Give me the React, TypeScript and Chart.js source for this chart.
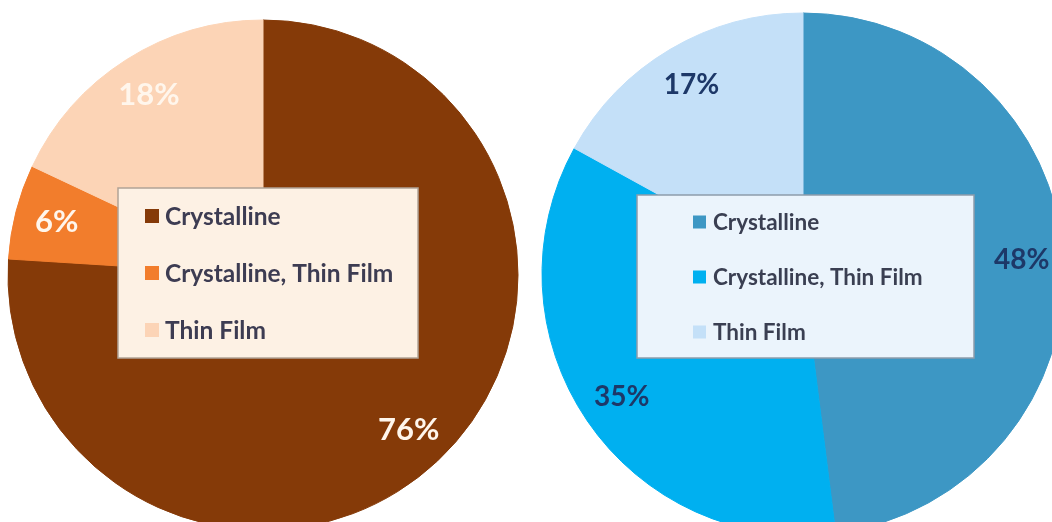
import React, { useEffect, useRef } from "react";
import { Chart, registerables } from "chart.js";

Chart.register(...registerables);

// ---- data ----
const categories = ["Crystalline", "Crystalline, Thin Film", "Thin Film"];
const leftValues = [76, 6, 18];
const rightValues = [48, 35, 17];
const leftColors = ["#853a08", "#f27d2c", "#fcd4b6"];
const rightColors = ["#3d97c4", "#00b0f0", "#c4e0f8"];

const FONT = "Lato, 'Open Sans', sans-serif";

type LegendCfg = {
  x: number; y: number; w: number; h: number;
  fill: string; stroke: string;
  swX: number; sw: number; textX: number; rows: number[];
  fontSize: number; textColor: string;
};

type PieCfg = {
  values: number[];
  colors: string[];
  left: number; top: number; size: number; radius: number;
  labelColor: string; labelSize: number; labelR: number;
  legend: LegendCfg;
};

const leftCfg: PieCfg = {
  values: leftValues,
  colors: leftColors,
  left: 6, top: 18, size: 514, radius: 255,
  labelColor: "#fff6ec", labelSize: 31, labelR: 0.835,
  legend: {
    x: -145, y: -87, w: 300, h: 170,
    fill: "#fdf1e4", stroke: "#b0a396",
    swX: -118, sw: 14, textX: -98, rows: [-59, -2, 55],
    fontSize: 24.5, textColor: "#3d3c52",
  },
};

const rightCfg: PieCfg = {
  values: rightValues,
  colors: rightColors,
  left: 540, top: 11, size: 526, radius: 261,
  labelColor: "#1d3868", labelSize: 28, labelR: 0.84,
  legend: {
    x: -166, y: -79, w: 337, h: 163,
    fill: "#ebf4fc", stroke: "#8d9cab",
    swX: -110, sw: 13, textX: -90, rows: [-52, 3, 58],
    fontSize: 22.5, textColor: "#3a3f52",
  },
};

function makeOverlay(cfg: PieCfg) {
  return {
    id: "overlay",
    afterDatasetsDraw(chart: any) {
      const ctx = chart.ctx as CanvasRenderingContext2D;
      const meta = chart.getDatasetMeta(0);
      const data = chart.data.datasets[0].data as number[];
      const total = data.reduce((a, b) => a + b, 0);
      ctx.save();
      // slice labels
      ctx.font = `bold ${cfg.labelSize}px ${FONT}`;
      ctx.fillStyle = cfg.labelColor;
      ctx.textAlign = "center";
      ctx.textBaseline = "middle";
      meta.data.forEach((arc: any, i: number) => {
        const p = arc.getProps(["x", "y", "startAngle", "endAngle", "outerRadius"], true);
        const mid = (p.startAngle + p.endAngle) / 2;
        const r = p.outerRadius * cfg.labelR;
        const pct = Math.round((data[i] / total) * 100);
        ctx.fillText(`${pct}%`, p.x + Math.cos(mid) * r, p.y + Math.sin(mid) * r);
      });
      // legend box
      const area = chart.chartArea;
      const cx = (area.left + area.right) / 2;
      const cy = (area.top + area.bottom) / 2;
      const L = cfg.legend;
      ctx.fillStyle = L.fill;
      ctx.fillRect(cx + L.x, cy + L.y, L.w, L.h);
      ctx.strokeStyle = L.stroke;
      ctx.lineWidth = 1.5;
      ctx.strokeRect(cx + L.x, cy + L.y, L.w, L.h);
      ctx.font = `bold ${L.fontSize}px ${FONT}`;
      ctx.textAlign = "left";
      ctx.textBaseline = "middle";
      (chart.data.labels as string[]).forEach((lab, i) => {
        const ry = cy + L.rows[i];
        ctx.fillStyle = cfg.colors[i];
        ctx.fillRect(cx + L.swX, ry - L.sw / 2, L.sw, L.sw);
        ctx.fillStyle = L.textColor;
        ctx.fillText(lab, cx + L.textX, ry + 1);
      });
      ctx.restore();
    },
  };
}

function Pie({ cfg }: { cfg: PieCfg }) {
  const ref = useRef<HTMLCanvasElement>(null);
  useEffect(() => {
    if (!ref.current) return;
    const chart = new Chart(ref.current, {
      type: "pie",
      data: {
        labels: categories,
        datasets: [
          {
            data: cfg.values,
            backgroundColor: cfg.colors,
            borderColor: cfg.colors,
            borderWidth: 1,
          },
        ],
      },
      options: {
        responsive: false,
        animation: false,
        events: [],
        radius: cfg.radius,
        layout: { padding: 0 },
        plugins: {
          legend: { display: false },
          tooltip: { enabled: false },
        },
      } as any,
      plugins: [makeOverlay(cfg)],
    });
    return () => chart.destroy();
  }, [cfg]);
  return (
    <canvas
      ref={ref}
      width={cfg.size}
      height={cfg.size}
      style={{
        position: "absolute",
        left: cfg.left,
        top: cfg.top,
        width: cfg.size,
        height: cfg.size,
      }}
    />
  );
}

export default function App() {
  return (
    <div
      style={{
        position: "fixed",
        left: 0,
        top: 0,
        width: 1052,
        height: 522,
        overflow: "hidden",
        background: "#ffffff",
      }}
    >
      <Pie cfg={leftCfg} />
      <Pie cfg={rightCfg} />
    </div>
  );
}
